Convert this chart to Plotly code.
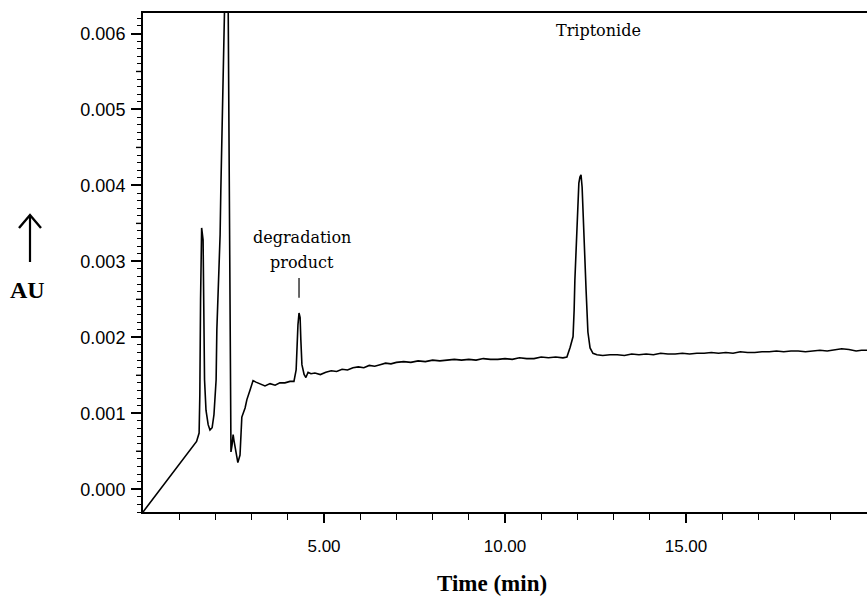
import plotly.graph_objects as go

# ---- data ----
time_min = [
    0.00, 1.02, 1.48, 1.55,
    1.57, 1.59, 1.60, 1.62, 1.66, 1.68, 1.70, 1.74, 1.80, 1.85, 1.91, 1.96,
    2.02, 2.04, 2.07, 2.10, 2.13, 2.15, 2.18, 2.21, 2.24, 2.29, 2.35, 2.37,
    2.39, 2.40, 2.405, 2.42, 2.43, 2.46, 2.49, 2.51, 2.57, 2.62, 2.68, 2.73,
    2.82, 2.87, 2.96, 3.04, 3.12, 3.23, 3.37, 3.51, 3.65, 3.78, 3.92, 4.06,
    4.17, 4.23, 4.25, 4.28, 4.31, 4.34, 4.36, 4.39, 4.45, 4.50, 4.56, 4.64,
    4.75, 4.90, 5.05, 5.20, 5.35, 5.50, 5.65, 5.80, 5.95, 6.10, 6.25, 6.40,
    6.55, 6.70, 6.85, 7.00, 7.20, 7.40, 7.60, 7.80, 8.00, 8.20, 8.40, 8.60,
    8.80, 9.00, 9.20, 9.40, 9.60, 9.80, 10.00, 10.20, 10.40, 10.60, 10.80,
    11.00, 11.20, 11.40, 11.60, 11.71,
    11.80, 11.88, 11.91, 11.93, 11.99, 12.04, 12.07, 12.10, 12.13, 12.15,
    12.21, 12.24, 12.29, 12.35, 12.43, 12.54,
    12.70, 12.90, 13.10, 13.30, 13.50, 13.70, 13.90, 14.10, 14.30, 14.50,
    14.70, 14.90, 15.10, 15.30, 15.50, 15.70, 15.90, 16.10, 16.30, 16.50,
    16.70, 16.90, 17.10, 17.30, 17.50, 17.70, 17.90, 18.10, 18.30, 18.50,
    18.70, 18.90, 19.10, 19.30, 19.50, 19.70, 19.85, 20.00,
]
absorbance_au = [
    -0.00030, 0.00034, 0.00063, 0.00074,
    0.00124, 0.00249, 0.00295, 0.00344, 0.00328, 0.00249, 0.00144, 0.00104,
    0.00085, 0.00078, 0.00081, 0.00098,
    0.00144, 0.00210, 0.00249, 0.00288, 0.00335, 0.00394, 0.00486, 0.00565,
    0.00627, 0.00720, 0.00660, 0.00501,
    0.00446, 0.00315, 0.00210, 0.00104, 0.00049, 0.00058, 0.00072, 0.00065,
    0.00045, 0.00035, 0.00045, 0.00095,
    0.00107, 0.00118, 0.00131, 0.00143, 0.00141, 0.00139, 0.00136, 0.00139,
    0.00137, 0.00140, 0.00140, 0.00142,
    0.00142, 0.00157, 0.00190, 0.00216, 0.00232, 0.00226, 0.00197, 0.00164,
    0.00151, 0.00147, 0.00154, 0.00152,
    0.00153, 0.00151, 0.00154, 0.00156, 0.00155, 0.00158, 0.00157, 0.00160,
    0.00161, 0.00160, 0.00163, 0.00162,
    0.00164, 0.00166, 0.00165, 0.00167, 0.00168, 0.00167, 0.00169, 0.00168,
    0.00170, 0.00169, 0.00170, 0.00171,
    0.00170, 0.00171, 0.00170, 0.00172, 0.00171, 0.00171, 0.00172, 0.00171,
    0.00173, 0.00172, 0.00172,
    0.00174, 0.00173, 0.00174, 0.00173, 0.00174,
    0.00187, 0.00201, 0.00236, 0.00275, 0.00345, 0.00403, 0.00411, 0.00414,
    0.00398, 0.00368,
    0.00306, 0.00262, 0.00207, 0.00186, 0.00179, 0.00177,
    0.00176, 0.00177, 0.00177, 0.00176, 0.00178, 0.00177, 0.00178, 0.00177,
    0.00179, 0.00178,
    0.00178, 0.00179, 0.00178, 0.00179, 0.00179, 0.00180, 0.00179, 0.00180,
    0.00179, 0.00181,
    0.00180, 0.00180, 0.00181, 0.00181, 0.00182, 0.00181, 0.00182, 0.00182,
    0.00181, 0.00182,
    0.00183, 0.00182, 0.00184, 0.00185, 0.00184, 0.00182, 0.00183, 0.00183,
]

y_tick_vals = [0.000, 0.001, 0.002, 0.003, 0.004, 0.005, 0.006]
y_tick_text = ["0.000", "0.001", "0.002", "0.003", "0.004", "0.005", "0.006"]
x_tick_vals = [5, 10, 15]
x_tick_text = ["5.00", "10.00", "15.00"]
x_minor_vals = [1, 2, 3, 4, 6, 7, 8, 9, 11, 12, 13, 14, 16, 17, 18, 19]

label_degradation = ["degradation", "product"]
label_main = "Triptonide"

X_RANGE = [0, 20.0]
Y_RANGE = [-0.0003, 0.00627]

fig = go.Figure()
fig.add_trace(go.Scatter(
    x=time_min, y=absorbance_au, mode="lines",
    line=dict(color="black", width=1.6),
    hoverinfo="skip", showlegend=False,
))

TICK_FONT = dict(family="Liberation Sans, Arial, sans-serif", size=18, color="black")

fig.update_layout(
    width=867, height=596,
    margin=dict(l=143, r=0, t=13, b=84),
    paper_bgcolor="white", plot_bgcolor="white",
    showlegend=False,
    xaxis=dict(
        range=X_RANGE, showgrid=False, zeroline=False,
        showline=True, linecolor="black", linewidth=2, mirror=True,
        tickmode="array", tickvals=x_tick_vals, ticktext=x_tick_text,
        ticks="outside", ticklen=9, tickwidth=1.5, tickcolor="black",
        ticklabelstandoff=9,
        tickfont=dict(family="Liberation Sans, Arial, sans-serif", size=17, color="black"),
        minor=dict(tickmode="array", tickvals=x_minor_vals, ticks="outside",
                   ticklen=6, tickwidth=1.3, tickcolor="black", showgrid=False),
    ),
    yaxis=dict(
        range=Y_RANGE, showgrid=False, zeroline=False,
        showline=True, linecolor="black", linewidth=2, mirror=False,
        tickmode="array", tickvals=y_tick_vals, ticktext=y_tick_text,
        ticks="outside", ticklen=10, tickwidth=1.5, tickcolor="black",
        ticklabelstandoff=2,
        tickfont=TICK_FONT,
        minor=dict(tickmode="linear", tick0=0, dtick=0.0001, ticks="outside",
                   ticklen=4, tickwidth=1.2, tickcolor="black", showgrid=False),
    ),
)

# medium ticks at every half unit on the y axis
plot_w = 867 - 143
half_vals = [v + 0.0005 for v in y_tick_vals]
for hv in half_vals:
    if hv < Y_RANGE[1]:
        fig.add_shape(type="line", xref="paper", yref="y",
                      x0=-7 / plot_w, x1=0, y0=hv, y1=hv,
                      line=dict(color="black", width=1.4))

# degradation-product label and leader, placed relative to its peak
deg_idx = max((i for i, t in enumerate(time_min) if 4.0 < t < 5.0),
              key=lambda i: absorbance_au[i])
deg_t, deg_y = time_min[deg_idx], absorbance_au[deg_idx]
SERIF = "DejaVu Serif, Liberation Serif, serif"
fig.add_annotation(x=deg_t + 0.08, y=deg_y + 0.00099, text=label_degradation[0],
                   showarrow=False, font=dict(family=SERIF, size=16, color="black"),
                   xanchor="center", yanchor="middle")
fig.add_annotation(x=deg_t + 0.08, y=deg_y + 0.00066, text=label_degradation[1],
                   showarrow=False, font=dict(family=SERIF, size=16, color="black"),
                   xanchor="center", yanchor="middle")
fig.add_shape(type="line", xref="x", yref="y", x0=deg_t, x1=deg_t,
              y0=deg_y + 0.00020, y1=deg_y + 0.00046,
              line=dict(color="black", width=1.2))

# Triptonide label
main_idx = max((i for i, t in enumerate(time_min) if 10 < t < 14),
               key=lambda i: absorbance_au[i])
fig.add_annotation(x=time_min[main_idx] + 0.47, y=0.00604, text=label_main,
                   showarrow=False, font=dict(family=SERIF, size=16, color="black"),
                   xanchor="center", yanchor="middle")

# axis titles
BOLD_SERIF = "Liberation Serif, Times New Roman, serif"
fig.add_annotation(xref="paper", yref="paper", x=(492 - 143) / plot_w, y=(512 - 583) / 499,
                   text="<b>Time (min)</b>", showarrow=False,
                   font=dict(family=BOLD_SERIF, size=23, color="black"),
                   xanchor="center", yanchor="middle")
fig.add_annotation(xref="paper", yref="paper", x=(28 - 143) / plot_w, y=(512 - 290) / 499,
                   text="<b>AU</b>", showarrow=False,
                   font=dict(family=BOLD_SERIF, size=24, color="black"),
                   xanchor="center", yanchor="middle")

# upward arrow next to AU
def px_x(p):
    return (p - 143) / plot_w

def px_y(p):
    return (512 - p) / 499

fig.add_shape(type="line", xref="paper", yref="paper",
              x0=px_x(30), x1=px_x(30), y0=px_y(262), y1=px_y(216),
              line=dict(color="black", width=2.2))
fig.add_shape(type="path", xref="paper", yref="paper",
              path=f"M {px_x(19)} {px_y(228)} L {px_x(30)} {px_y(215)} L {px_x(41)} {px_y(228)}",
              line=dict(color="black", width=2.4))

fig.write_html("out.html")
